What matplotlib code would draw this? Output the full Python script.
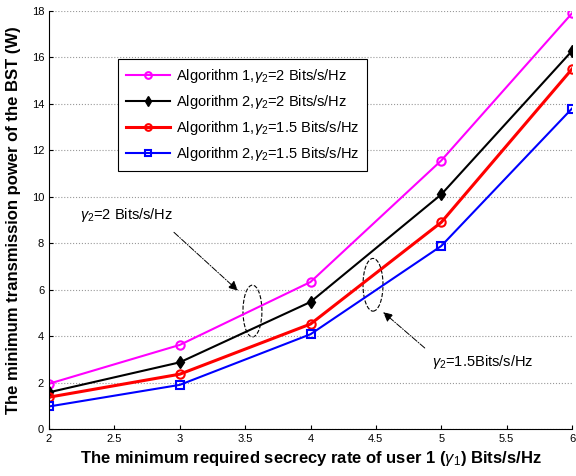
import matplotlib
matplotlib.use('Agg')
import matplotlib.pyplot as plt
from matplotlib.patches import Ellipse

# data
rate_user1 = [2, 3, 4, 5, 6]
alg1_g2_2 = [1.95, 3.62, 6.33, 11.56, 17.9]
alg2_g2_2 = [1.58, 2.87, 5.47, 10.1, 16.28]
alg1_g2_15 = [1.37, 2.36, 4.52, 8.9, 15.5]
alg2_g2_15 = [0.97, 1.9, 4.08, 7.88, 13.8]

x_ticks = [2, 2.5, 3, 3.5, 4, 4.5, 5, 5.5, 6]
y_ticks = [0, 2, 4, 6, 8, 10, 12, 14, 16, 18]

plt.rcParams['font.family'] = ['Liberation Sans', 'DejaVu Sans']
plt.rcParams['mathtext.fontset'] = 'custom'
plt.rcParams['mathtext.rm'] = 'Liberation Sans'
plt.rcParams['mathtext.it'] = 'Liberation Sans:italic'

fig = plt.figure(figsize=(5.76, 4.76), dpi=100)
ax = fig.add_axes([49/576, 1 - 429/476, 523/576, 418/476])

ax.plot(rate_user1, alg1_g2_2, color='magenta', marker='o', mfc='none', mew=1.5,
        ms=6, lw=1.5, label=r'Algorithm 1,$\gamma_2$=2 Bits/s/Hz')
ax.plot(rate_user1, alg2_g2_2, color='black', marker='d', mfc='black', ms=6,
        lw=1.5, label=r'Algorithm 2,$\gamma_2$=2 Bits/s/Hz')
ax.plot(rate_user1, alg1_g2_15, color='red', marker='o', mfc='none', mew=1.5,
        ms=6, lw=2.2, label=r'Algorithm 1,$\gamma_2$=1.5 Bits/s/Hz')
ax.plot(rate_user1, alg2_g2_15, color='blue', marker='s', mfc='none', mew=1.5,
        ms=6, lw=1.5, label=r'Algorithm 2,$\gamma_2$=1.5 Bits/s/Hz')

ax.set_xlim(2, 6)
ax.set_ylim(0, 18)
ax.set_xticks(x_ticks)
ax.set_xticklabels(['2', '2.5', '3', '3.5', '4', '4.5', '5', '5.5', '6'])
ax.set_yticks(y_ticks)
ax.tick_params(labelsize=8, direction='in', length=3)
ax.yaxis.grid(True, linestyle=':', color='#999999', lw=0.8)
ax.spines['top'].set_visible(False)
ax.spines['right'].set_visible(False)

ax.set_xlabel(r'The minimum required secrecy rate of user 1 ($\gamma_1$) Bits/s/Hz',
              fontsize=12, fontweight='bold', labelpad=4)
ax.set_ylabel('The minimum transmission power of the BST (W)',
              fontsize=12, fontweight='bold', labelpad=8)

leg = ax.legend(loc='upper left', bbox_to_anchor=(0.132, 0.885), fontsize=10.5,
                frameon=True, fancybox=False, edgecolor='black', framealpha=1,
                borderpad=0.55, labelspacing=0.55, handlelength=3.0,
                handletextpad=0.4, markerscale=0.8, borderaxespad=0)
leg.get_frame().set_linewidth(0.8)

# annotations for the two groups
ax.add_patch(Ellipse((3.556, 5.08), 0.145, 2.23, fill=False, ls='--', lw=0.8, color='black'))
ax.add_patch(Ellipse((4.478, 6.21), 0.153, 2.27, fill=False, ls='--', lw=0.8, color='black'))
ax.text(2.24, 9.2, r'$\gamma_2$=2 Bits/s/Hz', fontsize=10.5, va='center')
ax.annotate('', xy=(3.46, 5.88), xytext=(2.94, 8.55),
            arrowprops=dict(arrowstyle='-|>', ls='-.', lw=0.7, color='black',
                            mutation_scale=14))
ax.text(4.93, 2.89, r'$\gamma_2$=1.5Bits/s/Hz', fontsize=10.5, va='center')
ax.annotate('', xy=(4.54, 5.11), xytext=(4.89, 3.41),
            arrowprops=dict(arrowstyle='-|>', ls='-.', lw=0.7, color='black',
                            mutation_scale=14))

fig.savefig('out.png', dpi=100)
